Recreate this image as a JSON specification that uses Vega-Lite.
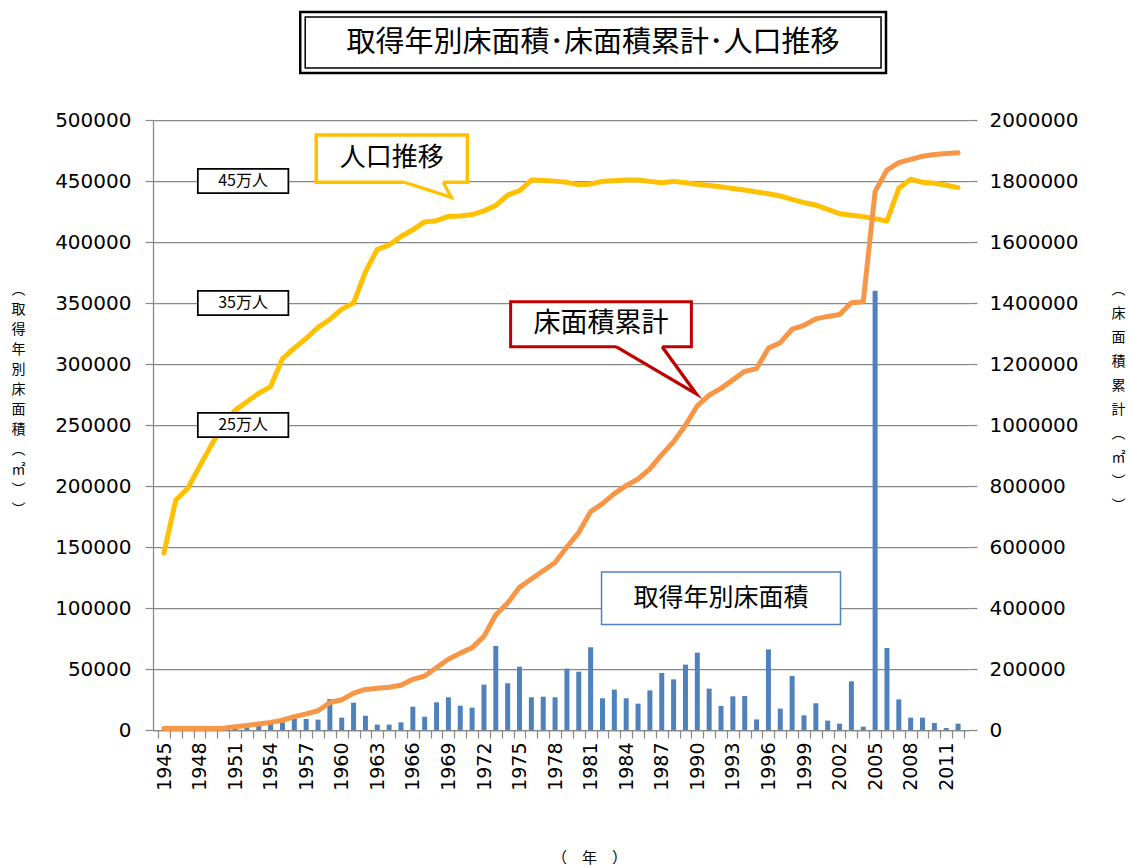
{
  "$schema": "https://vega.github.io/schema/vega-lite/v6.json",
  "width": 816,
  "height": 610,
  "autosize": "none",
  "padding": {"left": 153, "top": 120, "right": 160, "bottom": 136},
  "background": "white",
  "config": {
    "view": {"stroke": null},
    "axis": {"labelFont": "DejaVu Sans", "labelColor": "black", "titleColor": "black"}
  },
  "datasets": {
    "main": [
      {"year":1945,"annual":0,"cum":5000,"pop":145000},
      {"year":1946,"annual":0,"cum":5000,"pop":188500},
      {"year":1947,"annual":0,"cum":5000,"pop":198000},
      {"year":1948,"annual":0,"cum":5000,"pop":216000},
      {"year":1949,"annual":0,"cum":5000,"pop":233500},
      {"year":1950,"annual":0,"cum":6000,"pop":250000},
      {"year":1951,"annual":3300,"cum":11000,"pop":262000},
      {"year":1952,"annual":3800,"cum":15000,"pop":269000},
      {"year":1953,"annual":4400,"cum":20000,"pop":276000},
      {"year":1954,"annual":5200,"cum":25000,"pop":281500},
      {"year":1955,"annual":6300,"cum":32000,"pop":304500},
      {"year":1956,"annual":11200,"cum":44000,"pop":313000},
      {"year":1957,"annual":9000,"cum":53000,"pop":321000},
      {"year":1958,"annual":8500,"cum":63000,"pop":330000},
      {"year":1959,"annual":25400,"cum":90000,"pop":336500},
      {"year":1960,"annual":10100,"cum":99000,"pop":345000},
      {"year":1961,"annual":22400,"cum":121000,"pop":350000},
      {"year":1962,"annual":11700,"cum":133000,"pop":375500},
      {"year":1963,"annual":4400,"cum":137000,"pop":394000},
      {"year":1964,"annual":4400,"cum":140000,"pop":397500},
      {"year":1965,"annual":6300,"cum":147000,"pop":404500},
      {"year":1966,"annual":19100,"cum":166000,"pop":410000},
      {"year":1967,"annual":10900,"cum":177000,"pop":416500},
      {"year":1968,"annual":22700,"cum":205000,"pop":417500},
      {"year":1969,"annual":26800,"cum":232000,"pop":421000},
      {"year":1970,"annual":19900,"cum":252000,"pop":421300},
      {"year":1971,"annual":18300,"cum":270000,"pop":422500},
      {"year":1972,"annual":37200,"cum":307000,"pop":425500},
      {"year":1973,"annual":68900,"cum":378000,"pop":430000},
      {"year":1974,"annual":38300,"cum":416000,"pop":438500},
      {"year":1975,"annual":51900,"cum":468000,"pop":442000},
      {"year":1976,"annual":26800,"cum":495000,"pop":450800},
      {"year":1977,"annual":27300,"cum":522000,"pop":450500},
      {"year":1978,"annual":26800,"cum":549000,"pop":449900},
      {"year":1979,"annual":50300,"cum":600000,"pop":448900},
      {"year":1980,"annual":47800,"cum":648000,"pop":447000},
      {"year":1981,"annual":67800,"cum":716000,"pop":447500},
      {"year":1982,"annual":26000,"cum":742000,"pop":449700},
      {"year":1983,"annual":33100,"cum":775000,"pop":450300},
      {"year":1984,"annual":26000,"cum":801000,"pop":450800},
      {"year":1985,"annual":21600,"cum":823000,"pop":450800},
      {"year":1986,"annual":32500,"cum":856000,"pop":449700},
      {"year":1987,"annual":46700,"cum":903000,"pop":448600},
      {"year":1988,"annual":41500,"cum":945000,"pop":449700},
      {"year":1989,"annual":53600,"cum":999000,"pop":448600},
      {"year":1990,"annual":63400,"cum":1063000,"pop":447300},
      {"year":1991,"annual":33900,"cum":1098000,"pop":446300},
      {"year":1992,"annual":19700,"cum":1120000,"pop":445200},
      {"year":1993,"annual":27600,"cum":1148000,"pop":443800},
      {"year":1994,"annual":27900,"cum":1176000,"pop":442600},
      {"year":1995,"annual":8700,"cum":1185000,"pop":441000},
      {"year":1996,"annual":66100,"cum":1252000,"pop":439600},
      {"year":1997,"annual":17500,"cum":1270000,"pop":437700},
      {"year":1998,"annual":44300,"cum":1314000,"pop":435000},
      {"year":1999,"annual":12000,"cum":1327000,"pop":432200},
      {"year":2000,"annual":21900,"cum":1348000,"pop":430300},
      {"year":2001,"annual":7700,"cum":1356000,"pop":426800},
      {"year":2002,"annual":5200,"cum":1362000,"pop":423200},
      {"year":2003,"annual":39900,"cum":1401000,"pop":421900},
      {"year":2004,"annual":2700,"cum":1404000,"pop":420800},
      {"year":2005,"annual":360000,"cum":1766000,"pop":419100},
      {"year":2006,"annual":67200,"cum":1836000,"pop":417200},
      {"year":2007,"annual":25100,"cum":1860000,"pop":444000},
      {"year":2008,"annual":10100,"cum":1871000,"pop":451400},
      {"year":2009,"annual":10100,"cum":1881000,"pop":448900},
      {"year":2010,"annual":5700,"cum":1887000,"pop":448100},
      {"year":2011,"annual":1600,"cum":1890000,"pop":446500},
      {"year":2012,"annual":5200,"cum":1893000,"pop":444600}
    ],
    "boxes": [
      {"kind":"title_outer","x":1956.5,"x2":2005.92,"y":588500,"y2":538500},
      {"kind":"title_inner","x":1956.92,"x2":2005.5,"y":584400,"y2":542600},
      {"kind":"pop","x":1957.85,"x2":1970.6,"y":487700,"y2":449000},
      {"kind":"cum","x":1974.25,"x2":1989.5,"y":351000,"y2":314200},
      {"kind":"annual","x":1981.92,"x2":2002.08,"y":129500,"y2":86500},
      {"kind":"lab","x":1947.86,"x2":1955.5,"y":460000,"y2":440000},
      {"kind":"lab","x":1947.86,"x2":1955.5,"y":360000,"y2":340000},
      {"kind":"lab","x":1947.86,"x2":1955.5,"y":260000,"y2":240000}
    ],
    "tailfill": [
      {"callout":"pop","x":1965.3,"top":451300,"bottom":449000},
      {"callout":"pop","x":1968.55,"top":451300,"bottom":438850},
      {"callout":"pop","x":1968.56,"top":449000,"bottom":438850},
      {"callout":"pop","x":1969.25,"top":436600,"bottom":436600},
      {"callout":"cum","x":1983.14,"top":316400,"bottom":314200},
      {"callout":"cum","x":1987.03,"top":316400,"bottom":291970},
      {"callout":"cum","x":1987.04,"top":314200,"bottom":291970},
      {"callout":"cum","x":1989.92,"top":275400,"bottom":275400}
    ],
    "tailline": [
      {"callout":"pop","ord":1,"x":1965.3,"y":449000},
      {"callout":"pop","ord":2,"x":1969.25,"y":436600},
      {"callout":"pop","ord":3,"x":1968.55,"y":449000},
      {"callout":"cum","ord":1,"x":1983.14,"y":314200},
      {"callout":"cum","ord":2,"x":1989.92,"y":275400},
      {"callout":"cum","ord":3,"x":1987.03,"y":314200}
    ],
    "texts": [
      {"kind":"title","x":1981.21,"y":563100,"text":"取得年別床面積･床面積累計･人口推移"},
      {"kind":"pop","x":1964.22,"y":468850,"text":"人口推移"},
      {"kind":"cum","x":1981.88,"y":332800,"text":"床面積累計"},
      {"kind":"annual","x":1992.0,"y":107800,"text":"取得年別床面積"},
      {"kind":"lab","x":1951.68,"y":450000,"text":"45万人"},
      {"kind":"lab","x":1951.68,"y":350000,"text":"35万人"},
      {"kind":"lab","x":1951.68,"y":250000,"text":"25万人"}
    ]
  },
  "layer": [
    {
      "data": {"name": "main"},
      "mark": {"type": "bar", "width": 5, "color": "#4F81BD"},
      "encoding": {
        "x": {
          "field": "year", "type": "quantitative",
          "scale": {"domain": [1944.5, 2012.5], "nice": false, "zero": false},
          "axis": {
            "values": [1944.5,1945.5,1946.5,1947.5,1948.5,1949.5,1950.5,1951.5,1952.5,1953.5,1954.5,1955.5,1956.5,1957.5,1958.5,1959.5,1960.5,1961.5,1962.5,1963.5,1964.5,1965.5,1966.5,1967.5,1968.5,1969.5,1970.5,1971.5,1972.5,1973.5,1974.5,1975.5,1976.5,1977.5,1978.5,1979.5,1980.5,1981.5,1982.5,1983.5,1984.5,1985.5,1986.5,1987.5,1988.5,1989.5,1990.5,1991.5,1992.5,1993.5,1994.5,1995.5,1996.5,1997.5,1998.5,1999.5,2000.5,2001.5,2002.5,2003.5,2004.5,2005.5,2006.5,2007.5,2008.5,2009.5,2010.5,2011.5,2012.5],
            "tickCount": 200,
            "labelExpr": "(datum.value + 0.5 - 1945) % 3 === 0 && datum.value < 2011 ? format(datum.value + 0.5, 'd') : ''",
            "labelOffset": 6,
            "labelAngle": -90,
            "labelFontSize": 19,
            "labelPadding": 4,
            "labelOverlap": false,
            "labelFlush": false,
            "tickSize": 8,
            "tickColor": "#888888",
            "tickWidth": 1.25,
            "domainColor": "#888888",
            "domainWidth": 1.25,
            "grid": false,
            "title": "（　年　）",
            "titleFont": "Noto Sans CJK JP",
            "titleFontSize": 15,
            "titleFontWeight": "normal",
            "titleX": 436,
            "titleY": 127,
            "titleAlign": "center",
            "titleBaseline": "middle"
          }
        },
        "y": {
          "field": "annual", "type": "quantitative",
          "scale": {"domain": [0, 500000], "nice": false},
          "axis": {
            "values": [0,50000,100000,150000,200000,250000,300000,350000,400000,450000,500000],
            "format": "d",
            "grid": true,
            "gridColor": "#888888",
            "gridWidth": 1.25,
            "tickColor": "#888888",
            "tickWidth": 1.25,
            "tickSize": 8,
            "domainColor": "#888888",
            "domainWidth": 1.25,
            "labelFontSize": 20,
            "labelPadding": 14,
            "title": ["︵","取","得","年","別","床","面","積","︵","㎡","︶","︶"],
            "titleFont": "Noto Sans CJK JP",
            "titleFontSize": 14,
            "titleFontWeight": "normal",
            "titleAngle": 0,
            "titleLineHeight": 20,
            "titleX": -135,
            "titleY": 169,
            "titleAlign": "center",
            "titleBaseline": "middle"
          }
        }
      }
    },
    {
      "data": {"name": "main"},
      "mark": {"type": "line", "color": "#FFC000", "strokeWidth": 5, "strokeJoin": "round", "strokeCap": "round"},
      "encoding": {
        "x": {"field": "year", "type": "quantitative", "scale": {"domain": [1944.5, 2012.5], "nice": false, "zero": false}},
        "y": {"field": "pop", "type": "quantitative", "scale": {"domain": [0, 500000], "nice": false}, "axis": null}
      }
    },
    {
      "data": {"name": "main"},
      "mark": {"type": "line", "color": "#F79646", "strokeWidth": 5, "strokeJoin": "round", "strokeCap": "round"},
      "encoding": {
        "x": {"field": "year", "type": "quantitative", "scale": {"domain": [1944.5, 2012.5], "nice": false, "zero": false}},
        "y": {
          "field": "cum", "type": "quantitative",
          "scale": {"domain": [0, 2000000], "nice": false},
          "axis": {
            "orient": "right",
            "values": [0,200000,400000,600000,800000,1000000,1200000,1400000,1600000,1800000,2000000],
            "format": "d",
            "grid": false,
            "domain": false,
            "tickColor": "#888888",
            "tickWidth": 1.25,
            "tickSize": 8,
            "labelFontSize": 20,
            "labelPadding": 12,
            "title": ["︵","床","面","積","累","計","︵","㎡","︶","︶"],
            "titleFont": "Noto Sans CJK JP",
            "titleFontSize": 14,
            "titleFontWeight": "normal",
            "titleAngle": 0,
            "titleLineHeight": 24,
            "titleX": 149,
            "titleY": 169,
            "titleAlign": "center",
            "titleBaseline": "middle"
          }
        }
      }
    },
    {
      "data": {"name": "boxes"},
      "transform": [{"filter": "datum.kind === 'title_outer'"}],
      "mark": {"type": "rect", "fill": "white", "stroke": "black", "strokeWidth": 2.5},
      "encoding": {
        "x": {"field": "x", "type": "quantitative", "scale": {"domain": [1944.5, 2012.5], "nice": false, "zero": false}},
        "x2": {"field": "x2"},
        "y": {"field": "y", "type": "quantitative", "scale": {"domain": [0, 500000], "nice": false}, "axis": null},
        "y2": {"field": "y2"}
      }
    },
    {
      "data": {"name": "boxes"},
      "transform": [{"filter": "datum.kind === 'title_inner'"}],
      "mark": {"type": "rect", "fill": "white", "stroke": "black", "strokeWidth": 1.5},
      "encoding": {
        "x": {"field": "x", "type": "quantitative", "scale": {"domain": [1944.5, 2012.5], "nice": false, "zero": false}},
        "x2": {"field": "x2"},
        "y": {"field": "y", "type": "quantitative", "scale": {"domain": [0, 500000], "nice": false}, "axis": null},
        "y2": {"field": "y2"}
      }
    },
    {
      "data": {"name": "boxes"},
      "transform": [{"filter": "datum.kind === 'pop'"}],
      "mark": {"type": "rect", "fill": "white", "stroke": "#FFC000", "strokeWidth": 3.5},
      "encoding": {
        "x": {"field": "x", "type": "quantitative", "scale": {"domain": [1944.5, 2012.5], "nice": false, "zero": false}},
        "x2": {"field": "x2"},
        "y": {"field": "y", "type": "quantitative", "scale": {"domain": [0, 500000], "nice": false}, "axis": null},
        "y2": {"field": "y2"}
      }
    },
    {
      "data": {"name": "boxes"},
      "transform": [{"filter": "datum.kind === 'cum'"}],
      "mark": {"type": "rect", "fill": "white", "stroke": "#C00000", "strokeWidth": 3},
      "encoding": {
        "x": {"field": "x", "type": "quantitative", "scale": {"domain": [1944.5, 2012.5], "nice": false, "zero": false}},
        "x2": {"field": "x2"},
        "y": {"field": "y", "type": "quantitative", "scale": {"domain": [0, 500000], "nice": false}, "axis": null},
        "y2": {"field": "y2"}
      }
    },
    {
      "data": {"name": "boxes"},
      "transform": [{"filter": "datum.kind === 'annual'"}],
      "mark": {"type": "rect", "fill": "white", "stroke": "#4F81BD", "strokeWidth": 1.5},
      "encoding": {
        "x": {"field": "x", "type": "quantitative", "scale": {"domain": [1944.5, 2012.5], "nice": false, "zero": false}},
        "x2": {"field": "x2"},
        "y": {"field": "y", "type": "quantitative", "scale": {"domain": [0, 500000], "nice": false}, "axis": null},
        "y2": {"field": "y2"}
      }
    },
    {
      "data": {"name": "boxes"},
      "transform": [{"filter": "datum.kind === 'lab'"}],
      "mark": {"type": "rect", "fill": "white", "stroke": "black", "strokeWidth": 1.75},
      "encoding": {
        "x": {"field": "x", "type": "quantitative", "scale": {"domain": [1944.5, 2012.5], "nice": false, "zero": false}},
        "x2": {"field": "x2"},
        "y": {"field": "y", "type": "quantitative", "scale": {"domain": [0, 500000], "nice": false}, "axis": null},
        "y2": {"field": "y2"}
      }
    },
    {
      "data": {"name": "tailfill"},
      "mark": {"type": "area", "color": "white", "opacity": 1},
      "encoding": {
        "x": {"field": "x", "type": "quantitative", "scale": {"domain": [1944.5, 2012.5], "nice": false, "zero": false}},
        "y": {"field": "top", "type": "quantitative", "scale": {"domain": [0, 500000], "nice": false}, "axis": null},
        "y2": {"field": "bottom"},
        "detail": {"field": "callout", "type": "nominal"}
      }
    },
    {
      "data": {"name": "tailline"},
      "mark": {"type": "line", "strokeJoin": "miter", "strokeMiterLimit": 20, "strokeWidth": 3.25},
      "encoding": {
        "x": {"field": "x", "type": "quantitative", "scale": {"domain": [1944.5, 2012.5], "nice": false, "zero": false}},
        "y": {"field": "y", "type": "quantitative", "scale": {"domain": [0, 500000], "nice": false}, "axis": null},
        "order": {"field": "ord", "type": "quantitative"},
        "detail": {"field": "callout", "type": "nominal"},
        "stroke": {"field": "callout", "type": "nominal", "scale": {"domain": ["pop","cum"], "range": ["#FFC000","#C00000"]}, "legend": null}
      }
    },
    {
      "data": {"name": "texts"},
      "transform": [{"filter": "datum.kind === 'title'"}],
      "mark": {"type": "text", "font": "Noto Sans CJK JP", "color": "black", "align": "center", "baseline": "middle", "fontSize": 29},
      "encoding": {
        "x": {"field": "x", "type": "quantitative", "scale": {"domain": [1944.5, 2012.5], "nice": false, "zero": false}},
        "y": {"field": "y", "type": "quantitative", "scale": {"domain": [0, 500000], "nice": false}, "axis": null},
        "text": {"field": "text", "type": "nominal"}
      }
    },
    {
      "data": {"name": "texts"},
      "transform": [{"filter": "datum.kind === 'pop'"}],
      "mark": {"type": "text", "font": "Noto Sans CJK JP", "color": "black", "align": "center", "baseline": "middle", "fontSize": 26},
      "encoding": {
        "x": {"field": "x", "type": "quantitative", "scale": {"domain": [1944.5, 2012.5], "nice": false, "zero": false}},
        "y": {"field": "y", "type": "quantitative", "scale": {"domain": [0, 500000], "nice": false}, "axis": null},
        "text": {"field": "text", "type": "nominal"}
      }
    },
    {
      "data": {"name": "texts"},
      "transform": [{"filter": "datum.kind === 'cum'"}],
      "mark": {"type": "text", "font": "Noto Sans CJK JP", "color": "black", "align": "center", "baseline": "middle", "fontSize": 27},
      "encoding": {
        "x": {"field": "x", "type": "quantitative", "scale": {"domain": [1944.5, 2012.5], "nice": false, "zero": false}},
        "y": {"field": "y", "type": "quantitative", "scale": {"domain": [0, 500000], "nice": false}, "axis": null},
        "text": {"field": "text", "type": "nominal"}
      }
    },
    {
      "data": {"name": "texts"},
      "transform": [{"filter": "datum.kind === 'annual'"}],
      "mark": {"type": "text", "font": "Noto Sans CJK JP", "color": "black", "align": "center", "baseline": "middle", "fontSize": 25},
      "encoding": {
        "x": {"field": "x", "type": "quantitative", "scale": {"domain": [1944.5, 2012.5], "nice": false, "zero": false}},
        "y": {"field": "y", "type": "quantitative", "scale": {"domain": [0, 500000], "nice": false}, "axis": null},
        "text": {"field": "text", "type": "nominal"}
      }
    },
    {
      "data": {"name": "texts"},
      "transform": [{"filter": "datum.kind === 'lab'"}],
      "mark": {"type": "text", "font": "Noto Sans CJK JP", "color": "black", "align": "center", "baseline": "middle", "fontSize": 16},
      "encoding": {
        "x": {"field": "x", "type": "quantitative", "scale": {"domain": [1944.5, 2012.5], "nice": false, "zero": false}},
        "y": {"field": "y", "type": "quantitative", "scale": {"domain": [0, 500000], "nice": false}, "axis": null},
        "text": {"field": "text", "type": "nominal"}
      }
    }
  ],
  "resolve": {"scale": {"y": "independent"}, "axis": {"y": "independent"}}
}
